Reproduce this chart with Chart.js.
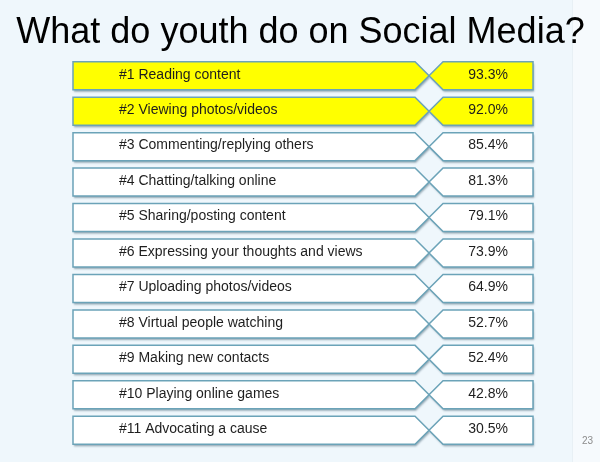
<!DOCTYPE html>
<html>
<head>
<meta charset="utf-8">
<title>What do youth do on Social Media?</title>
<script src="https://cdn.jsdelivr.net/npm/chart.js"></script>
<style>
  html, body { margin: 0; padding: 0; background: #eff7fc; }
  canvas { display: block; }
</style>
</head>
<body>
<canvas id="youthChart" width="600" height="462"></canvas>
<script>
// Activities, ranked (top to bottom)
const activities = [
    'Reading content',
    'Viewing photos/videos',
    'Commenting/replying others',
    'Chatting/talking online',
    'Sharing/posting content',
    'Expressing your thoughts and views',
    'Uploading photos/videos',
    'Virtual people watching',
    'Making new contacts',
    'Playing online games',
    'Advocating a cause'
];

// Share of youth doing it (%)
const shares = [93.3, 92.0, 85.4, 81.3, 79.1, 73.9, 64.9, 52.7, 52.4, 42.8, 30.5];

const chartTitle = 'What do youth do on Social Media?';
const highlightedRows = 2;
const FONT = "'Liberation Sans', Arial, sans-serif";

// background of the slide, title and page number
// (title drawn here because the built-in one gets squeezed to the chart width)
const slideBackground = {
    id: 'slideBackground',
    beforeDraw(chart) {
        const ctx = chart.ctx;
        ctx.save();
        ctx.fillStyle = '#eff7fc';
        ctx.fillRect(0, 0, chart.width, chart.height);
        ctx.fillStyle = '#f6fafd';
        ctx.fillRect(572, 0, chart.width - 572, chart.height);
        ctx.fillStyle = '#e8f0f5';
        ctx.fillRect(572, 0, 1, chart.height);
        ctx.restore();
    },
    afterDraw(chart) {
        const ctx = chart.ctx;
        ctx.save();
        ctx.font = '36px ' + FONT;
        ctx.fillStyle = '#000000';
        ctx.textAlign = 'center';
        ctx.textBaseline = 'alphabetic';
        ctx.fillText(chartTitle, 300.5, 43);

        ctx.font = '10px ' + FONT;
        ctx.fillStyle = '#8c8c8c';
        ctx.textAlign = 'left';
        ctx.textBaseline = 'middle';
        ctx.fillText('23', 582, 441);
        ctx.restore();
    }
};

// draws each row as two arrow boxes meeting in an X
const chevronRows = {
    id: 'chevronRows',
    afterDatasetsDraw(chart) {
        const ctx = chart.ctx;
        const area = chart.chartArea;
        const meta = chart.getDatasetMeta(0);
        const left = area.left;
        const right = area.right;
        const tip = left + (right - left) * 0.774;

        meta.data.forEach((bar, i) => {
            const y = bar.y;
            const h = bar.height;
            const top = y - h / 2;
            const bot = y + h / 2;
            const d = h / 2;
            const fill = i < highlightedRows ? '#ffff00' : '#ffffff';

            ctx.save();
            ctx.lineWidth = 1.5;
            ctx.strokeStyle = '#6ba3b8';
            ctx.fillStyle = fill;
            ctx.shadowOffsetX = 1;
            ctx.shadowOffsetY = 2;
            ctx.shadowBlur = 2;

            ctx.shadowColor = 'rgba(40, 75, 95, 0.45)';
            ctx.beginPath();
            ctx.moveTo(left, top);
            ctx.lineTo(tip - d, top);
            ctx.lineTo(tip, y);
            ctx.lineTo(tip - d, bot);
            ctx.lineTo(left, bot);
            ctx.closePath();
            ctx.fill();
            ctx.shadowColor = 'transparent';
            ctx.stroke();

            ctx.shadowColor = 'rgba(40, 75, 95, 0.45)';
            ctx.beginPath();
            ctx.moveTo(tip + d, top);
            ctx.lineTo(right, top);
            ctx.lineTo(right, bot);
            ctx.lineTo(tip + d, bot);
            ctx.lineTo(tip, y);
            ctx.closePath();
            ctx.fill();
            ctx.shadowColor = 'transparent';
            ctx.stroke();

            ctx.font = '14px ' + FONT;
            ctx.fillStyle = '#1e1e1e';
            ctx.textBaseline = 'middle';
            ctx.textAlign = 'left';
            ctx.fillText('#' + (i + 1) + ' ' + chart.data.labels[i], left + 46, y - 1);
            ctx.textAlign = 'center';
            ctx.fillText(chart.data.datasets[0].data[i].toFixed(1) + '%', (tip + d + right) / 2, y - 1);
            ctx.restore();
        });
    }
};

new Chart(document.getElementById('youthChart'), {
    type: 'bar',
    data: {
        labels: activities,
        datasets: [{
            label: 'Youth (%)',
            data: shares,
            backgroundColor: 'rgba(0,0,0,0)',
            borderWidth: 0,
            categoryPercentage: 1,
            barPercentage: 0.79
        }]
    },
    options: {
        indexAxis: 'y',
        responsive: false,
        animation: false,
        layout: { padding: { left: 73, right: 67, top: 58, bottom: 14 } },
        scales: {
            x: { display: false, min: 0, max: 100 },
            y: { display: false }
        },
        plugins: {
            legend: { display: false },
            tooltip: { enabled: false },
            title: { display: false }
        }
    },
    plugins: [slideBackground, chevronRows]
});
</script>
</body>
</html>
